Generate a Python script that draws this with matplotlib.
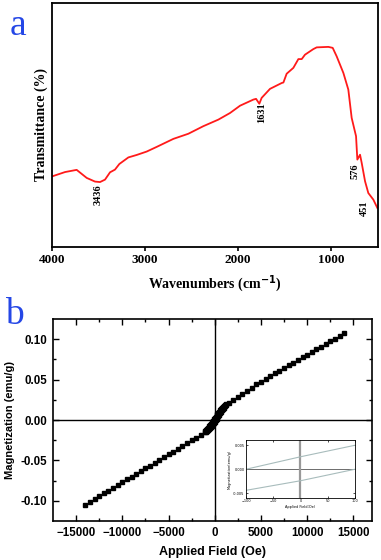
import matplotlib
matplotlib.use("Agg")
from matplotlib import pyplot as plt

# ---- panel a : FTIR spectrum ----
wn = [3993, 3860, 3735, 3627, 3538, 3484, 3430, 3376, 3323, 3276, 3179, 3090,
      2982, 2875, 2695, 2534, 2373, 2211, 2086, 1978, 1835, 1806, 1771, 1746,
      1656, 1530, 1512, 1477, 1405, 1351, 1315, 1280, 1190, 1154, 1029, 982,
      939, 867, 814, 778, 731, 717, 700, 688, 670, 634, 599, 545, 502]
trans = [29.0, 30.7, 31.6, 28.3, 26.8, 26.6, 27.6, 30.6, 31.7, 34.0, 36.7, 37.7,
         39.1, 41.0, 44.3, 46.4, 49.5, 52.2, 54.9, 57.9, 60.4, 60.7, 58.7, 61.1,
         64.8, 67.2, 67.4, 71.0, 73.4, 77.0, 77.0, 78.8, 81.1, 81.8, 82.0, 81.6,
         78.1, 71.3, 64.5, 52.9, 45.4, 35.8, 37.0, 37.8, 34.4, 26.9, 22.1, 19.4, 16.0]
peaks = ["3436", "1631", "576", "451"]
peak_pos = [(3500, 21.5), (1745, 55.0), (740, 31.0), (640, 16.0)]

# ---- panel b : M-H loop ----
H_neg = [-14000, -13500, -13000, -12500, -12000, -11500, -11000, -10500, -10000,
         -9500, -9000, -8500, -8000, -7500, -7000, -6500, -6000, -5500, -5000,
         -4500, -4000, -3500, -3000, -2500, -2000, -1500]
M_neg = [-0.1047, -0.1012, -0.0978, -0.0943, -0.0909, -0.0874, -0.0840, -0.0805,
         -0.0771, -0.0736, -0.0702, -0.0667, -0.0633, -0.0598, -0.0564, -0.0529,
         -0.0495, -0.0460, -0.0426, -0.0391, -0.0357, -0.0322, -0.0288, -0.0253,
         -0.0219, -0.0185]
H_pos = [1500, 2000, 2500, 3000, 3500, 4000, 4500, 5000, 5500, 6000, 6500, 7000,
         7500, 8000, 8500, 9000, 9500, 10000, 10500, 11000, 11500, 12000, 12500,
         13000, 13500, 14000]
M_pos = [0.0215, 0.0253, 0.0290, 0.0328, 0.0365, 0.0402, 0.0440, 0.0476, 0.0510,
         0.0543, 0.0576, 0.0609, 0.0643, 0.0676, 0.0709, 0.0742, 0.0775, 0.0808,
         0.0841, 0.0874, 0.0907, 0.0940, 0.0973, 0.1006, 0.1040, 0.1075]
H_core = [-1000, -900, -800, -700, -600, -500, -400, -300, -200, -100, 0, 100,
          200, 300, 400, 500, 600, 700, 800, 900, 1000, 1100, 1200]
M_up = [-0.0140, -0.0126, -0.0112, -0.0096, -0.0080, -0.0063, -0.0045, -0.0028,
        -0.0010, 0.0008, 0.0025, 0.0043, 0.0060, 0.0075, 0.0090, 0.0105, 0.0120,
        0.0134, 0.0148, 0.0160, 0.0172, 0.0184, 0.0195]
M_lo = [-0.0152, -0.0143, -0.0132, -0.0121, -0.0110, -0.0098, -0.0085, -0.0070,
        -0.0055, -0.0040, -0.0022, -0.0005, 0.0012, 0.0030, 0.0048, 0.0065, 0.0082,
        0.0100, 0.0118, 0.0135, 0.0152, 0.0170, 0.0188]

# inset (zoom near origin)
H_in = [-100, -50, 0, 50, 100]
M_in_up = [0.0000, 0.0013, 0.0026, 0.0038, 0.0050]
M_in_lo = [-0.0044, -0.0034, -0.0024, -0.0012, 0.0000]

serif = "Liberation Serif"
sans = "Liberation Sans"

fig = plt.figure(figsize=(3.81, 5.60), dpi=100)

# panel a
axa = fig.add_axes([0.1365, 0.559, 0.8556, 0.4357])
axa.plot(wn, trans, color="#ff1a1a", lw=1.3)
axa.set_xlim(4000, 495)
axa.set_ylim(0, 100)
axa.set_yticks([])
axa.set_xticks([4000, 3000, 2000, 1000])
axa.tick_params(axis="x", direction="out", length=3, width=1.2, pad=2)
for lab in axa.get_xticklabels():
    lab.set_fontfamily(serif)
    lab.set_fontweight("bold")
    lab.set_fontsize(9.5)
for s in axa.spines.values():
    s.set_linewidth(1.3)
axa.set_xlabel("Wavenumbers (cm$^{\\mathbf{-1}}$)", fontfamily=serif,
               fontweight="bold", fontsize=10, labelpad=5)
axa.set_ylabel("Transmittance (%)", fontfamily=serif, fontweight="bold",
               fontsize=10, labelpad=3)
for t, (x, y) in zip(peaks, peak_pos):
    axa.text(x, y, t, rotation=90, ha="center", va="center", fontfamily=serif,
             fontweight="bold", fontsize=7.5)
fig.text(0.025, 0.985, "a", color="#2547e6", fontfamily=serif, fontsize=27,
         va="top", ha="left")

# panel b
axb = fig.add_axes([0.139, 0.0696, 0.837, 0.3607])
axb.axhline(0, color="black", lw=1.0)
axb.axvline(0, color="black", lw=1.0)
ms = 3.5
axb.plot(H_neg, M_neg, "s", color="black", ms=ms)
axb.plot(H_pos, M_pos, "s", color="black", ms=ms)
axb.plot(H_core, M_up, "s", color="black", ms=ms)
axb.plot(H_core, M_lo, "s", color="black", ms=ms)
axb.set_xlim(-17500, 17000)
axb.set_ylim(-0.125, 0.125)
axb.set_xticks([-15000, -10000, -5000, 0, 5000, 10000, 15000])
axb.set_xticks([-12500, -7500, -2500, 2500, 7500, 12500], minor=True)
axb.set_yticks([-0.10, -0.05, 0.00, 0.05, 0.10])
axb.set_yticks([-0.075, -0.025, 0.025, 0.075], minor=True)
axb.set_yticklabels(["-0.10", "-0.05", "0.00", "0.05", "0.10"])
axb.tick_params(which="both", direction="in", top=True, right=True, width=1.0)
axb.tick_params(which="major", length=4, pad=4)
axb.tick_params(which="minor", length=2)
for lab in axb.get_xticklabels() + axb.get_yticklabels():
    lab.set_fontfamily(sans)
    lab.set_fontweight("bold")
    lab.set_fontsize(8.3)
for s in axb.spines.values():
    s.set_linewidth(1.2)
axb.set_xlabel("Applied Field (Oe)", fontfamily=sans, fontweight="bold",
               fontsize=9, labelpad=5)
axb.set_ylabel("Magnetization (emu/g)", fontfamily=sans, fontweight="bold",
               fontsize=8, labelpad=4)
fig.text(0.012, 0.468, "b", color="#2547e6", fontfamily=serif, fontsize=27,
         va="top", ha="left")

# inset
axi = fig.add_axes([0.6457, 0.1107, 0.286, 0.1036])
axi.axhline(0, color="#555555", lw=0.6)
axi.axvline(0, color="#999999", lw=1.6)
axi.plot(H_in, M_in_up, color="#a8bcbc", lw=0.8)
axi.plot(H_in, M_in_lo, color="#a8bcbc", lw=0.8)
axi.set_xlim(-100, 100)
axi.set_ylim(-0.006, 0.0061)
axi.set_xticks([-100, -50, 0, 50, 100])
axi.set_yticks([-0.005, 0.0, 0.005])
axi.set_yticklabels(["-0.005", "0.000", "0.005"])
axi.tick_params(direction="in", top=True, right=True, length=1.5, width=0.5,
                labelsize=2.5, pad=1)
for s in axi.spines.values():
    s.set_linewidth(0.6)
axi.set_xlabel("Applied Field(Oe)", fontsize=2.5, labelpad=1)
axi.set_ylabel("Magnetization(emu/g)", fontsize=2.5, labelpad=1)

fig.savefig("out.png", dpi=100)
